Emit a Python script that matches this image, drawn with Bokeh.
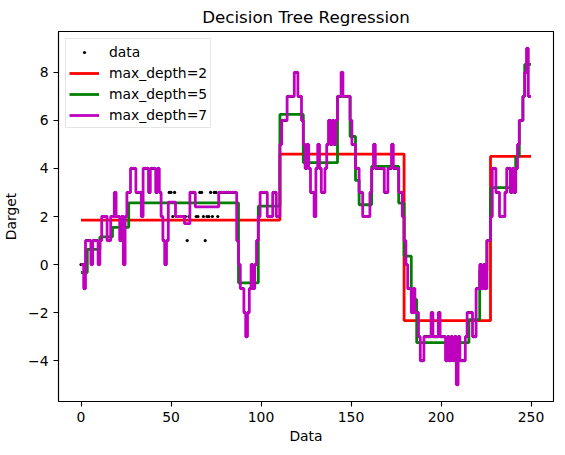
from bokeh.plotting import figure
from bokeh.models import Legend, LegendItem, Range1d, FixedTicker
from bokeh.embed import file_html
from bokeh.resources import INLINE

# ---- values ----
x_data = list(range(250))
y_data = [
    0, 0, -1, 1, 1, 1, 0, 1, 1, 1,
    0, 1, 2, 2, 2, 1, 1, 2, 2, 3,
    2, 2, 1, 2, 0, 2, 3, 3, 4, 4,
    4, 3, 3, 3, 2, 4, 4, 4, 3, 4,
    4, 4, 3, 4, 3, 2, 1, 0, 1, 3,
    3, 2, 3, 2, 2, 2, 2, 2, 2, 1,
    2, 3, 3, 3, 2, 2, 3, 3, 2, 1,
    2, 2, 3, 2, 3, 3, 2, 3, 3, 3,
    3, 3, 3, 3, 3, 3, 3, 1, 0, -1,
    -1, -2, -3, -2, -1, 0, -1, 0, 1, 2,
    3, 3, 3, 3, 2, 2, 2, 3, 3, 2,
    2, 5, 6, 6, 6, 7, 7, 7, 7, 8,
    8, 7, 7, 6, 5, 4, 5, 4, 3, 3,
    2, 4, 5, 4, 3, 3, 4, 5, 6, 5,
    6, 5, 6, 7, 7, 8, 7, 7, 7, 7,
    6, 5, 5, 4, 4, 3, 3, 2, 2, 2,
    2, 3, 4, 5, 4, 4, 4, 4, 4, 3,
    3, 4, 4, 5, 4, 4, 4, 3, 3, 2,
    1, 0, -1, -1, -2, -1, -2, -2, -3, -4,
    -4, -3, -3, -3, -3, -2, -3, -3, -3, -2,
    -3, -3, -3, -4, -3, -4, -3, -4, -3, -5,
    -3, -4, -4, -4, -3, -2, -2, -2, -3, -3,
    -1, -1, 0, -1, 0, -1, 1, 1, 2, 4,
    4, 3, 3, 2, 2, 2, 3, 4, 4, 3,
    4, 3, 4, 5, 6, 6, 7, 8, 9, 7,
]

# depth-7 fit: follows the data except where the tree averages
depth7_plateaus = [  # (first index, last index, leaf value)
    (49, 52, 2.6),
    (53, 57, 2.0),
    (58, 60, 1.7),
    (61, 63, 3.0),
    (64, 76, 2.4),
]

depth2_edges = [0, 110.5, 179.5, 227.5, 250]
depth2_values = [1.85, 4.6, -2.33, 4.5]

depth5_edges = [0, 3.5, 10.5, 17.5, 26.5, 87.5, 98.5, 110.5, 123.5, 142.5,
                149.5, 152.5, 154.5, 161.5, 176.5, 179.5, 183.5, 186.5, 215.5,
                221.5, 225.5, 227.5, 241.5, 243.5, 245.5, 246.5, 250]
depth5_values = [-0.33, 0.63, 1.15, 1.55, 2.57, -0.76, 2.43, 6.25, 4.24, 7.0,
                 5.33, 3.5, 2.49, 4.09, 2.56, 0.35, -1.45, -3.25, -2.29,
                 -0.25, 1.0, 3.2, 4.5, 6.0, 7.0, 8.33]

line_labels = ["max_depth=2", "max_depth=5", "max_depth=7"]
line_colors = ["#ff0000", "#008000", "#bf00bf"]
x_ticks = [0, 50, 100, 150, 200, 250]
y_ticks = [-4, -2, 0, 2, 4, 6, 8]
y_tick_labels = {-4: "\u22124", -2: "\u22122", 0: "0", 2: "2", 4: "4", 6: "6", 8: "8"}
x_end = 250

FONT = "DejaVu Sans"


def steps(edges, values):
    xs, ys = [], []
    for i, v in enumerate(values):
        xs += [edges[i], edges[i + 1]]
        ys += [v, v]
    return xs, ys


depth7_values = list(map(float, y_data))
for a, b, v in depth7_plateaus:
    for i in range(a, b + 1):
        depth7_values[i] = v
depth7_edges = [x_data[0]] + [(x_data[i] + x_data[i + 1]) / 2 for i in range(len(x_data) - 1)] + [x_end]

fits = [steps(depth2_edges, depth2_values),
        steps(depth5_edges, depth5_values),
        steps(depth7_edges, depth7_values)]

p = figure(frame_width=495, frame_height=370,
           x_range=Range1d(-12.5, 262.5), y_range=Range1d(-5.7, 9.7),
           output_backend="svg", toolbar_location=None,
           title="Decision Tree Regression",
           min_border_left=56, min_border_right=4, min_border_top=29, min_border_bottom=46)

p.title.text_font = FONT
p.title.text_font_size = "16.7px"
p.title.text_font_style = "normal"
p.title.align = "center"
p.title.text_color = "black"
p.title.standoff = 9

p.xgrid.visible = False
p.ygrid.visible = False
p.outline_line_color = "black"
p.outline_line_width = 1.1
p.background_fill_color = "white"
p.border_fill_color = "white"

for ax in (p.xaxis[0], p.yaxis[0]):
    ax.axis_line_color = "black"
    ax.axis_line_width = 1.1
    ax.major_tick_line_color = "black"
    ax.major_tick_line_width = 1.1
    ax.major_tick_in = 0
    ax.major_tick_out = 5
    ax.minor_tick_line_color = None
    ax.major_label_text_font = FONT
    ax.major_label_text_font_size = "13.9px"
    ax.major_label_text_color = "black"
    ax.major_label_standoff = 5
    ax.axis_label_text_font = FONT
    ax.axis_label_text_font_size = "13.9px"
    ax.axis_label_text_font_style = "normal"
    ax.axis_label_text_color = "black"

p.xaxis[0].axis_label_standoff = 3
p.yaxis[0].axis_label_standoff = 6
p.xaxis[0].ticker = FixedTicker(ticks=x_ticks)
p.yaxis[0].ticker = FixedTicker(ticks=y_ticks)
p.yaxis[0].major_label_overrides = y_tick_labels
p.xaxis[0].axis_label = "Data"
p.yaxis[0].axis_label = "Darget"

r_data = p.scatter(x_data, y_data, size=3.2, fill_color="black", line_color=None, marker="circle")

items = [LegendItem(label="data", renderers=[r_data])]
for (sx, sy), lab, col in zip(fits, line_labels, line_colors):
    r = p.line(sx, sy, line_color=col, line_width=2.8)
    items.append(LegendItem(label=lab, renderers=[r]))

legend = Legend(items=items, location="top_left")
legend.margin = 7
legend.padding = 3
legend.spacing = 2
legend.glyph_width = 30
legend.glyph_height = 8
legend.label_height = 19
legend.label_standoff = 10
legend.label_text_font = FONT
legend.label_text_font_size = "13.9px"
legend.label_text_color = "black"
legend.border_line_color = "#cccccc"
legend.border_line_width = 1
legend.background_fill_alpha = 0.8
p.add_layout(legend)

open("out.html", "w").write(file_html(p, INLINE))
